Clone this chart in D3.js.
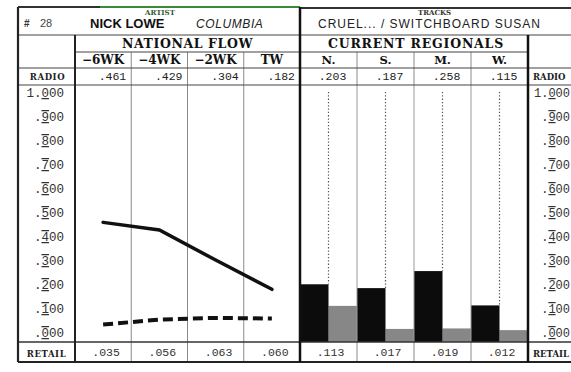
<!DOCTYPE html>
<html><head><meta charset="utf-8">
<script src="https://cdn.jsdelivr.net/npm/d3@7"></script>
<style>body{margin:0;background:#fff}svg{display:block}</style>
</head><body><svg id="c" width="571" height="372"></svg>
<script>
const nationalLabels = ["\u22126WK", "\u22124WK", "\u22122WK", "TW"];
const nationalRadio = [0.461, 0.429, 0.304, 0.182];
const nationalRetail = [0.035, 0.056, 0.063, 0.060];
const regionLabels = ["N.", "S.", "M.", "W."];
const regionRadio = [0.203, 0.187, 0.258, 0.115];
const regionRetail = [0.113, 0.017, 0.019, 0.012];
const yTicks = [0, 0.1, 0.2, 0.3, 0.4, 0.5, 0.6, 0.7, 0.8, 0.9, 1.0];
const header = {rank: "28", artist: "NICK LOWE", label: "COLUMBIA", tracks: "CRUEL... / SWITCHBOARD SUSAN"};

const svg = d3.select("#c");
const L = 18, LC = 75, MID = 300, RC = 528, R = 575;
const rowTop = 7, rowH1 = 35, rowH2 = 52, rowH3 = 68, rowRadio = 85, rowRetail = 342, bottom = 362;

const xN = d3.scaleBand().domain(nationalLabels).range([LC, MID]);
const xR = d3.scaleBand().domain(regionLabels).range([MID, RC]);
const xHalf = d3.scaleBand().domain(["radio", "retail"]).range([0, xR.bandwidth()]);
const y = d3.scaleLinear().domain([0, 1]).range([333, 93]);

const serif = "'DejaVu Serif', serif";
const mono = "'Liberation Mono', monospace";
const sans = "'Liberation Sans', Arial, sans-serif";

function line(x1, y1, x2, y2, w, c) {
  svg.append("line").attr("x1", x1).attr("y1", y1).attr("x2", x2).attr("y2", y2)
    .attr("stroke", c || "#222").attr("stroke-width", w || 1);
}

// ---- Bars (regional) ----
const g = svg.append("g");
regionLabels.forEach((r, i) => {
  g.append("rect").attr("x", xR(r) + xHalf("retail")).attr("width", xHalf.bandwidth())
    .attr("y", y(regionRetail[i])).attr("height", rowRetail - y(regionRetail[i])).attr("fill", "#878787");
  g.append("rect").attr("x", xR(r) + xHalf("radio")).attr("width", xHalf.bandwidth())
    .attr("y", y(regionRadio[i])).attr("height", rowRetail - y(regionRadio[i])).attr("fill", "#0c0c0c");
  g.append("line").attr("x1", xR(r) + xHalf.bandwidth()).attr("x2", xR(r) + xHalf.bandwidth())
    .attr("y1", 92).attr("y2", y(regionRadio[i]))
    .attr("stroke", "#555").attr("stroke-width", 1.2).attr("stroke-dasharray", "1.3,2");
});

// ---- Grid ----
[xN(nationalLabels[1]), xN(nationalLabels[2]), xN(nationalLabels[3])].forEach(x => line(x, rowH2, x, bottom, 1, "#8a8a8a"));
[xR(regionLabels[1]), xR(regionLabels[2]), xR(regionLabels[3])].forEach(x => {
  line(x, rowH2, x, rowRadio, 1, "#8a8a8a");
  line(x, rowRadio, x, rowRetail, 1, "#9a9a9a");
  line(x, rowRetail, x, bottom, 1, "#8a8a8a");
});
line(L, rowTop, 100, rowTop, 2, "#333");
line(100, rowTop, 300, rowTop, 2, "#3a8a3a");
line(300, rowTop + 1, R, rowTop + 1, 2, "#333");
line(L, rowH1, R, rowH1, 1.2, "#444");
line(LC, rowH2, RC, rowH2, 1.2, "#444");
line(L, rowH3, R, rowH3, 1.2, "#444");
line(L, rowRadio, R, rowRadio, 1.2, "#444");
line(L, rowRetail, R, rowRetail, 1.5, "#333");
line(L, bottom, R, bottom, 2.2, "#222");
line(L, rowTop, L, bottom, 2.2, "#222");
line(LC, rowH1, LC, bottom, 2, "#222");
line(MID, rowTop, MID, bottom, 2.5, "#111");
line(RC, rowH1, RC, bottom, 2.5, "#111");

// ---- Lines (national flow) ----
const lineGen = d3.line().x((d, i) => xN(nationalLabels[i]) + xN.bandwidth() / 2).y(d => y(d));
svg.append("path").datum(nationalRadio).attr("d", lineGen).attr("fill", "none")
  .attr("stroke", "#111").attr("stroke-width", 3.5).attr("stroke-linecap", "round");
svg.append("path").datum(nationalRetail).attr("d", lineGen)
  .attr("fill", "none").attr("stroke", "#111").attr("stroke-width", 4).attr("stroke-dasharray", "10,5");

// ---- Header texts ----
svg.append("text").attr("x", 24).attr("y", 27).attr("font-family", sans).attr("font-weight", "bold")
  .attr("font-size", 10).attr("fill", "#333").text("#");
svg.append("text").attr("x", 40).attr("y", 27).attr("font-family", sans)
  .attr("font-size", 11).attr("fill", "#444").text(header.rank);
svg.append("text").attr("x", 145).attr("y", 15).attr("font-family", serif).attr("font-weight", "bold")
  .attr("font-size", 7).attr("fill", "#2e5a30").text("ARTIST");
svg.append("text").attr("x", 90).attr("y", 28).attr("font-family", sans).attr("font-weight", "bold")
  .attr("font-size", 13).attr("fill", "#111").text(header.artist);
svg.append("text").attr("x", 196).attr("y", 28).attr("font-family", sans).attr("font-style", "italic")
  .attr("font-size", 12).attr("letter-spacing", 0.6).attr("fill", "#222").text(header.label);
svg.append("text").attr("x", 418).attr("y", 15).attr("font-family", serif).attr("font-weight", "bold")
  .attr("font-size", 7).attr("fill", "#333").text("TRACKS");
svg.append("text").attr("x", 318).attr("y", 28).attr("font-family", sans)
  .attr("font-size", 12).attr("fill", "#222").attr("textLength", 222).text(header.tracks);

svg.append("text").attr("x", (LC + MID) / 2).attr("y", 48).attr("text-anchor", "middle")
  .attr("font-family", serif).attr("font-weight", "bold").attr("font-size", 12.5).attr("letter-spacing", 0.6)
  .attr("fill", "#111").text("NATIONAL FLOW");
svg.append("text").attr("x", (MID + RC) / 2 + 2).attr("y", 48).attr("text-anchor", "middle")
  .attr("font-family", serif).attr("font-weight", "bold").attr("font-size", 12.5).attr("letter-spacing", 0.8)
  .attr("fill", "#111").text("CURRENT REGIONALS");

nationalLabels.forEach(d => svg.append("text").attr("x", xN(d) + xN.bandwidth() / 2).attr("y", 64)
  .attr("text-anchor", "middle").attr("font-family", serif).attr("font-weight", "bold").attr("font-size", 12)
  .attr("fill", "#111").text(d));
regionLabels.forEach(d => svg.append("text").attr("x", xR(d) + xR.bandwidth() / 2).attr("y", 64)
  .attr("text-anchor", "middle").attr("font-family", serif).attr("font-weight", "bold").attr("font-size", 11.5)
  .attr("fill", "#111").text(d));

const fmt = v => d3.format(".3f")(v).replace(/^0/, "");
function rowLabel(txt, x, yy, anchor, ls) {
  svg.append("text").attr("x", x).attr("y", yy).attr("text-anchor", anchor || "middle")
    .attr("font-family", serif).attr("font-weight", "bold").attr("font-size", 8.5).attr("letter-spacing", ls)
    .attr("fill", "#222").text(txt);
}
rowLabel("RADIO", (L + LC) / 2 + 1, 80, "middle", 0.6);
rowLabel("RETAIL", (L + LC) / 2, 357, "middle", 0.6);
rowLabel("RADIO", 533, 80, "start", 0);
rowLabel("RETAIL", 533, 357, "start", 0);

nationalLabels.forEach((d, i) => {
  svg.append("text").attr("x", xN(d) + xN.bandwidth() - 5).attr("y", 80).attr("text-anchor", "end")
    .attr("font-family", mono).attr("font-size", 11.5).attr("fill", "#222").text(fmt(nationalRadio[i]));
  svg.append("text").attr("x", xN(d) + xN.bandwidth() / 2 + 3).attr("y", 356).attr("text-anchor", "middle")
    .attr("font-family", mono).attr("font-size", 11.5).attr("fill", "#333").text(fmt(nationalRetail[i]));
});
regionLabels.forEach((d, i) => {
  svg.append("text").attr("x", xR(d) + xR.bandwidth() / 2 + 4).attr("y", 80).attr("text-anchor", "middle")
    .attr("font-family", mono).attr("font-size", 11.5).attr("fill", "#222").text(fmt(regionRadio[i]));
  svg.append("text").attr("x", xR(d) + xR.bandwidth() / 2 + 2).attr("y", 356).attr("text-anchor", "middle")
    .attr("font-family", mono).attr("font-size", 11.5).attr("fill", "#333").text(fmt(regionRetail[i]));
});

// ---- Axes labels ----
function axisLabel(v, x, anchor, size) {
  const s = v === 1 ? "1.000" : fmt(v);
  const t = svg.append("text").attr("x", x).attr("y", y(v) + 4).attr("text-anchor", anchor)
    .attr("font-family", mono).attr("font-size", size).attr("fill", "#333");
  const dot = s.indexOf(".");
  t.append("tspan").text(s.slice(0, dot + 1));
  t.append("tspan").attr("text-decoration", v === 1 ? "underline" : "underline overline").text(s[dot + 1]);
  t.append("tspan").text(s.slice(dot + 2));
}
yTicks.forEach(v => { axisLabel(v, 64, "end", 12.5); axisLabel(v, 570, "end", 12); });
</script></body></html>
